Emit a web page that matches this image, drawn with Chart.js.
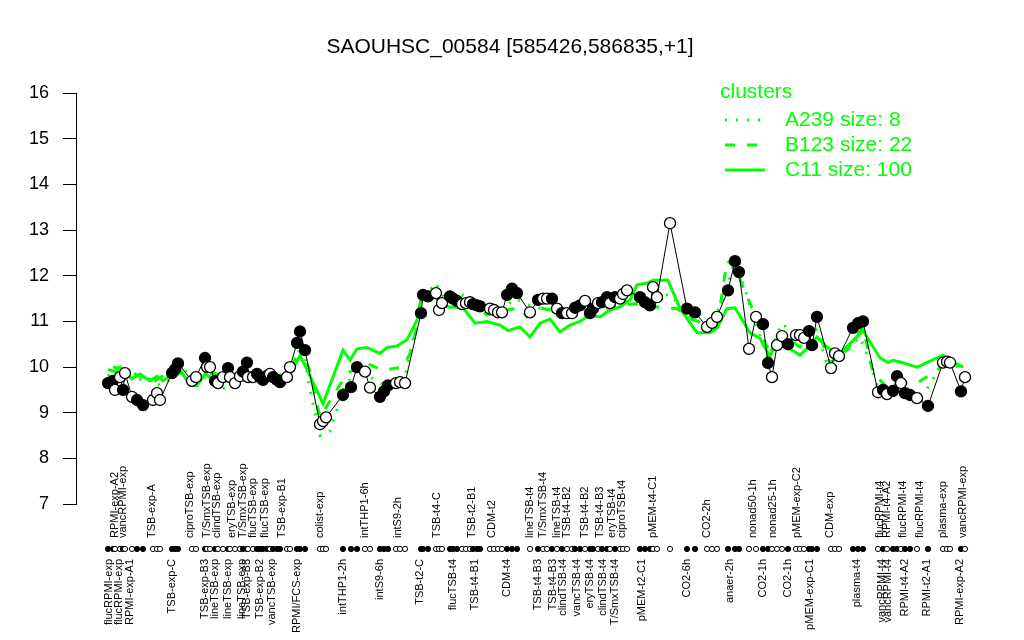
<!DOCTYPE html>
<html>
<head>
<meta charset="utf-8">
<script src="https://cdn.jsdelivr.net/npm/chart.js@4.4.0/dist/chart.umd.min.js"></script>
<style>
  html, body { margin: 0; padding: 0; background: #fff; }
  #wrap { width: 1024px; height: 640px; }
</style>
</head>
<body>
<div id="wrap"><canvas id="chart" width="1024" height="640"></canvas></div>
<script>
// condition positions along the x axis (gaps between experiment groups)
const positions = [
  1.6, 2.6, 3.0, 4.0, 4.6, 5.0, 6.4, 7.4, 8.6,
  10.6, 11.4, 12.0, 14.4, 15.0, 15.6, 18.4, 19.2,
  21.0, 21.4, 22.0, 23.0, 23.6, 24.6, 25.6, 26.0, 27.0, 28.0, 28.6, 29.4, 29.6, 30.6, 31.4, 32.0, 32.6, 33.4, 34.0, 34.6, 35.4, 36.0,
  37.4, 38.0, 39.4, 40.0, 41.0,
  44.0, 44.6, 45.2, 48.6, 50.2, 51.4, 53.0, 54.0, 56.0, 56.8, 57.6, 59.2, 60.0, 61.0,
  64.2, 64.6, 65.6, 67.2, 67.8, 68.4, 70.0, 70.6, 71.4, 72.4, 73.2, 74.0, 74.6, 75.4, 76.0,
  78.0, 78.8, 79.6, 80.4, 81.4, 82.4, 83.4,
  86.0, 87.6, 88.6, 89.4, 90.4, 91.4, 92.4, 93.4, 94.4, 95.0, 96.0, 97.0, 98.0, 98.6, 99.6, 100.4, 101.4, 102.0, 103.0, 104.0, 104.6, 105.4,
  108.0, 109.0, 110.0, 110.6, 111.4, 114.0, 117.4, 119.0, 121.4, 122.4, 123.4, 125.6, 127.0, 127.8,
  129.8, 131.2, 132.6, 133.6, 134.4, 135.4, 136.4, 137.6, 139.2, 140.0, 140.8, 141.8, 142.4, 143.4,
  146.2, 147.0, 147.8, 150.6, 151.6, 152.6,
  155.6, 156.6, 157.4, 158.6, 159.4, 160.2, 161.0, 162.0, 163.4, 165.6, 168.6, 169.4, 170.0, 172.2, 173.0
];
const expression = [
  9.65, 9.7, 9.5, 9.78, 9.5, 9.87, 9.35, 9.28, 9.17,
  9.28, 9.43, 9.28, 9.87, 9.95, 10.08, 9.7, 9.78,
  10.2, 10.0, 10.0, 9.7, 9.65, 9.78, 9.98, 9.78, 9.65, 9.8, 9.9, 10.1, 9.78, 9.78, 9.85, 9.78, 9.72, 9.8, 9.85, 9.78, 9.72, 9.67,
  9.78, 10.0, 10.53, 10.78, 10.37,
  8.75, 8.82, 8.9, 9.39, 9.56, 10.0, 9.9, 9.55, 9.35, 9.47, 9.6, 9.65, 9.67, 9.65,
  11.18, 11.58, 11.55, 11.62, 11.25, 11.4, 11.55, 11.5, 11.45, 11.38, 11.4, 11.42, 11.38, 11.35, 11.33,
  11.28, 11.25, 11.2, 11.2, 11.58, 11.72, 11.62,
  11.2, 11.47, 11.5, 11.5, 11.5, 11.28, 11.18, 11.18, 11.18, 11.3, 11.35, 11.45, 11.18, 11.28, 11.4, 11.42, 11.53, 11.4, 11.53, 11.5, 11.6, 11.68,
  11.53, 11.42, 11.35, 11.75, 11.53, 13.15, 11.28, 11.2, 10.88, 10.97, 11.1, 11.68, 12.32, 12.08,
  10.4, 11.1, 10.94, 10.09, 9.78, 10.48, 10.68, 10.5, 10.7, 10.7, 10.64, 10.79, 10.48, 11.1,
  9.98, 10.3, 10.24, 10.86, 10.96, 11.0,
  9.45, 9.5, 9.41, 9.48, 9.8, 9.65, 9.43, 9.39, 9.32, 9.15, 10.1, 10.12, 10.1, 9.47, 9.78
];
// 1 = filled marker, 0 = open marker
const filled = [
  1, 1, 0, 0, 1, 0, 0, 1, 1,
  0, 0, 0, 1, 1, 1, 0, 0,
  1, 0, 0, 1, 0, 0, 1, 0, 0, 0, 1, 1, 0, 0, 1, 1, 1, 1, 0, 1, 1, 1,
  0, 0, 1, 1, 1,
  0, 0, 0, 1, 1, 1, 0, 0, 1, 1, 1, 0, 0, 0,
  1, 1, 1, 0, 0, 0, 1, 1, 1, 0, 0, 0, 1, 1, 1,
  0, 0, 0, 0, 1, 1, 1,
  0, 1, 0, 0, 1, 0, 1, 0, 0, 1, 1, 0, 1, 1, 0, 1, 1, 0, 1, 0, 0, 0,
  1, 1, 1, 0, 0, 0, 1, 1, 0, 0, 0, 1, 1, 1,
  0, 0, 1, 1, 0, 0, 0, 1, 0, 0, 0, 1, 1, 1,
  0, 0, 0, 1, 1, 1,
  0, 1, 0, 1, 1, 0, 1, 1, 0, 1, 0, 0, 0, 1, 0
];

// cluster mean profiles [position, value]
const clusterA239 = [
  [1.6, 9.8], [3, 10.0], [5, 9.95], [7, 9.65], [9, 9.8], [12, 9.6], [14.4, 9.75], [17, 9.95], [19, 9.55],
  [22, 9.9], [24, 9.5], [27, 9.65], [30, 9.85], [33, 9.9], [36, 9.7], [39, 10.0], [40.4, 10.6], [42, 9.5],
  [44, 8.5], [46, 8.6], [49, 9.6], [52, 10.0], [55, 9.7], [58, 9.55], [61, 9.8], [64, 11.3], [67, 11.85],
  [69, 11.5], [72, 11.6], [76, 11.45], [80, 11.2], [83, 11.5], [87, 11.3], [92, 11.25], [96, 11.35],
  [100, 11.4], [104, 11.5], [108, 11.35], [111, 11.5], [114, 11.6], [118, 11.1], [122, 10.85], [125, 11.6],
  [127, 12.35], [129, 11.7], [131, 11.0], [133.6, 10.2], [136.4, 10.96], [140, 10.6], [143, 10.9],
  [146, 9.87], [149, 10.3], [152, 10.66], [154, 10.1], [156, 9.4], [159, 9.55], [162, 9.35], [165, 9.45],
  [168.6, 10.1], [171, 10.05], [173, 9.85]
];
const clusterB123 = [
  [2.6, 10.0], [5, 9.95], [8, 9.8], [11, 9.7], [14, 9.9], [17, 9.85], [19, 9.65], [22, 9.9], [26, 9.75],
  [30, 9.8], [34, 9.8], [38, 9.85], [40, 10.5], [42, 9.9], [44, 8.9], [49.4, 9.87], [53.4, 10.08],
  [56.6, 9.93], [60.6, 10.0], [62, 10.3], [63.4, 10.88], [64.6, 11.53], [68, 11.55], [74, 11.5],
  [77.4, 11.14], [81.4, 11.25], [84, 11.3], [85.4, 11.1], [88, 11.3], [92, 11.2], [96, 11.25], [100, 11.25],
  [104, 11.35], [108, 11.4], [112, 11.3], [115.4, 11.28], [118.6, 11.03], [122, 10.95], [124, 11.3],
  [125.4, 12.33], [127, 12.2], [128.6, 11.75], [130.6, 11.25], [133.4, 10.44], [136, 10.75], [140, 10.44],
  [143.4, 10.85], [146, 10.09], [149.4, 10.37], [152.6, 10.88], [154.6, 9.87], [157.4, 9.56], [160, 9.67],
  [163.4, 9.65], [166.6, 9.87], [170, 10.15], [172.6, 10.0]
];
const clusterC11 = [
  [1.6, 9.95], [3, 9.9], [4, 10.0], [5, 9.85], [6.4, 9.75], [8, 9.85], [10, 9.7], [11.4, 9.8], [12.6, 9.7],
  [14.4, 9.85], [16, 9.95], [18, 9.6], [19.4, 9.6], [21, 9.85], [22.4, 9.75], [24, 9.7], [26, 9.8],
  [28, 9.75], [30, 9.8], [32, 9.8], [34, 9.85], [36, 9.8], [38, 9.85], [40, 10.25], [41.4, 9.95],
  [44.6, 9.2], [48.6, 10.37], [50, 10.15], [51.4, 10.4], [53.4, 10.43], [56, 10.3], [57.4, 10.43],
  [59.4, 10.46], [61.4, 10.6], [63.4, 11.03], [64.4, 11.62], [66.6, 11.58], [69.4, 11.32], [72.6, 11.3],
  [75, 10.96], [77.4, 11.0], [80, 10.92], [81.6, 10.8], [84, 10.88], [86, 10.66], [88, 10.96], [90, 11.05],
  [92, 10.77], [94, 10.92], [96, 11.0], [98, 11.14], [100, 11.1], [102, 11.25], [104, 11.32], [106, 11.47],
  [107.4, 11.8], [109.4, 11.84], [110.6, 11.9], [113.6, 11.9], [116, 11.28], [118, 10.97], [119.4, 10.75],
  [122, 10.75], [123.4, 10.85], [125.4, 11.28], [127, 11.3], [130, 10.75], [132, 10.63], [134, 10.22],
  [135.4, 10.6], [137.4, 10.44], [140, 10.26], [142, 10.48], [143.4, 10.66], [145.4, 10.44], [147.6, 10.26],
  [152.6, 10.8], [156, 10.2], [157.6, 10.1], [158.6, 10.15], [160.4, 10.1], [163.4, 10.0], [168.6, 10.26],
  [170.6, 10.1], [172.6, 10.0]
];

const topLabels = [
  ['RPMI-exp-A2', 3.0], ['vancRPMI-exp', 4.6], ['TSB-exp-A', 10.4], ['ciproTSB-exp', 18.0],
  ['T/SmxTSB-exp', 21.4], ['clindTSB-exp', 23.4], ['eryTSB-exp', 26.4], ['T/SmxTSB-exp', 28.6],
  ['flucTSB-exp', 30.6], ['flucTSB-exp', 33.0], ['TSB-exp-B1', 36.4], ['colist-exp', 44.0],
  ['intTHP1-6h', 53.0], ['intS9-2h', 59.6], ['TSB-t4-C', 67.4], ['TSB-t2-B1', 74.4], ['CDM-t2', 78.4],
  ['lineTSB-t4', 86.0], ['T/SmxTSB-t4', 88.6], ['lineTSB-t4', 91.4], ['TSB-t4-B2', 93.4],
  ['TSB-t4-B2', 97.0], ['TSB-t4-B3', 100.0], ['eryTSB-t4', 102.4], ['ciproTSB-t4', 104.4],
  ['pMEM-t4-C1', 110.6], ['CO2-2h', 121.4], ['nonad50-1h', 130.6], ['nonad25-1h', 134.6],
  ['pMEM-exp-C2', 139.4], ['CDM-exp', 146.0], ['flucRPMI-t4', 156.0], ['RPMI-t4-A2', 157.4],
  ['flucRPMI-t4', 160.6], ['flucRPMI-t4', 164.0], ['plasma-exp', 168.6], ['vancRPMI-exp', 172.6]
];
const bottomLabels = [
  ['flucRPMI-exp', 1.8], ['flucRPMI-exp', 3.8], ['RPMI-exp-A1', 6.0], ['TSB-exp-C', 14.4],
  ['TSB-exp-B3', 21.0], ['lineTSB-exp', 23.0], ['lineTSB-exp', 25.6], ['lineTSB-exp', 28.4],
  ['TSB-exp-B3', 29.4], ['TSB-exp-B2', 32.0], ['vancTSB-exp', 34.4], ['RPMI/FCS-exp', 39.4],
  ['intTHP1-2h', 48.6], ['intS9-6h', 56.0], ['TSB-t2-C', 64.0], ['flucTSB-t4', 70.6], ['TSB-t4-B1', 75.0],
  ['CDM-t4', 81.4], ['TSB-t4-B3', 87.6], ['TSB-t4-B3', 90.6], ['clindTSB-t4', 92.6], ['vancTSB-t4', 95.4],
  ['eryTSB-t4', 98.0], ['clindTSB-t4', 100.6], ['T/SmxTSB-t4', 103.0], ['pMEM-t2-C1', 108.4],
  ['CO2-6h', 117.4], ['anaer-2h', 126.0], ['CO2-1h', 132.6], ['CO2-1h', 137.6], ['pMEM-exp-C1', 142.0],
  ['plasma-t4', 151.4], ['vancRPMI-t4', 156.4], ['vancRPMI-t4', 157.6], ['RPMI-t4-A2', 161.0],
  ['RPMI-t2-A1', 165.4], ['RPMI-exp-A2', 172.0]
];

const legendItems = [
  ['A239 size: 8', [2, 9]],
  ['B123 size: 22', [10, 12]],
  ['C11 size: 100', []]
];

const GREEN = '#00ff00';
const FONT = '"Liberation Sans", Arial, Helvetica, sans-serif';
const Y_AXIS_MIN = 7, Y_AXIS_MAX = 16;
const DOT_ROW = 6.02; // strip of condition markers below the axis

const toXY = arr => arr.map(p => ({ x: p[0], y: p[1] }));

// title, legend, y axis line and rotated condition names
const decorations = {
    id: 'decorations',
    afterDraw(chart) {
        const ctx = chart.ctx;
        const xs = chart.scales.x;
        const ys = chart.scales.y;
        ctx.save();

        ctx.strokeStyle = '#000';
        ctx.lineWidth = 1;
        ctx.beginPath();
        ctx.moveTo(ys.right - 0.5, ys.getPixelForValue(Y_AXIS_MIN));
        ctx.lineTo(ys.right - 0.5, ys.getPixelForValue(Y_AXIS_MAX));
        ctx.stroke();

        ctx.fillStyle = '#000';
        ctx.font = '21px ' + FONT;
        ctx.textAlign = 'center';
        ctx.textBaseline = 'middle';
        ctx.fillText('SAOUHSC_00584 [585426,586835,+1]', 510, 47);

        ctx.font = '11px ' + FONT;
        topLabels.forEach(([t, p]) => {
            ctx.save();
            ctx.translate(xs.getPixelForValue(p), 538);
            ctx.rotate(-Math.PI / 2);
            ctx.textAlign = 'left';
            ctx.fillText(t, 0, 0);
            ctx.restore();
        });
        bottomLabels.forEach(([t, p]) => {
            ctx.save();
            ctx.translate(xs.getPixelForValue(p), 559);
            ctx.rotate(-Math.PI / 2);
            ctx.textAlign = 'right';
            ctx.fillText(t, 0, 0);
            ctx.restore();
        });

        // legend
        ctx.fillStyle = GREEN;
        ctx.strokeStyle = GREEN;
        ctx.font = '21px ' + FONT;
        ctx.textAlign = 'left';
        ctx.fillText('clusters', 720, 92);
        legendItems.forEach(([t, dash], i) => {
            const y = 120 + i * 25;
            ctx.beginPath();
            ctx.setLineDash(dash);
            ctx.lineWidth = 3;
            ctx.moveTo(725, y);
            ctx.lineTo(765, y);
            ctx.stroke();
            ctx.fillText(t, 785, y);
        });
        ctx.restore();
    }
};

new Chart(document.getElementById('chart'), {
    type: 'scatter',
    data: {
        datasets: [
            {
                label: 'expression',
                data: positions.map((x, i) => ({ x, y: expression[i] })),
                showLine: true,
                borderColor: '#000',
                borderWidth: 1,
                pointRadius: 5.5,
                pointBorderWidth: 1.3,
                pointBorderColor: '#000',
                pointBackgroundColor: filled.map(f => f ? '#000' : '#fff'),
                order: 0
            },
            {
                label: 'A239',
                data: toXY(clusterA239),
                showLine: true,
                borderColor: GREEN,
                borderWidth: 3,
                borderDash: [2, 9],
                pointRadius: 0,
                order: 1
            },
            {
                label: 'B123',
                data: toXY(clusterB123),
                showLine: true,
                borderColor: GREEN,
                borderWidth: 3,
                borderDash: [10, 12],
                pointRadius: 0,
                order: 2
            },
            {
                label: 'C11',
                data: toXY(clusterC11),
                showLine: true,
                borderColor: GREEN,
                borderWidth: 3,
                pointRadius: 0,
                order: 3
            },
            {
                label: 'conditions',
                data: positions.map(x => ({ x, y: DOT_ROW })),
                pointRadius: 2.6,
                pointBorderWidth: 1,
                pointBorderColor: '#000',
                pointBackgroundColor: filled.map(f => f ? '#000' : '#fff'),
                order: 4
            }
        ]
    },
    options: {
        responsive: false,
        devicePixelRatio: 1,
        animation: false,
        events: [],
        layout: { padding: { left: 0, right: 24, top: 93, bottom: 81 } },
        plugins: { legend: { display: false }, tooltip: { enabled: false } },
        scales: {
            x: { type: 'linear', display: false, min: -4.6, max: 180 },
            y: {
                min: 5.8, max: Y_AXIS_MAX,
                afterFit: s => { s.width = 77; },
                afterBuildTicks: s => {
                    s.ticks = s.ticks.filter(t => t.value >= Y_AXIS_MIN && Number.isInteger(t.value));
                },
                ticks: { stepSize: 1, color: '#000', padding: 14, font: { size: 18, family: FONT } },
                grid: { drawOnChartArea: false, drawTicks: true, tickLength: 14, color: '#000' },
                border: { display: false }
            }
        }
    },
    plugins: [decorations]
});
</script>
</body>
</html>
